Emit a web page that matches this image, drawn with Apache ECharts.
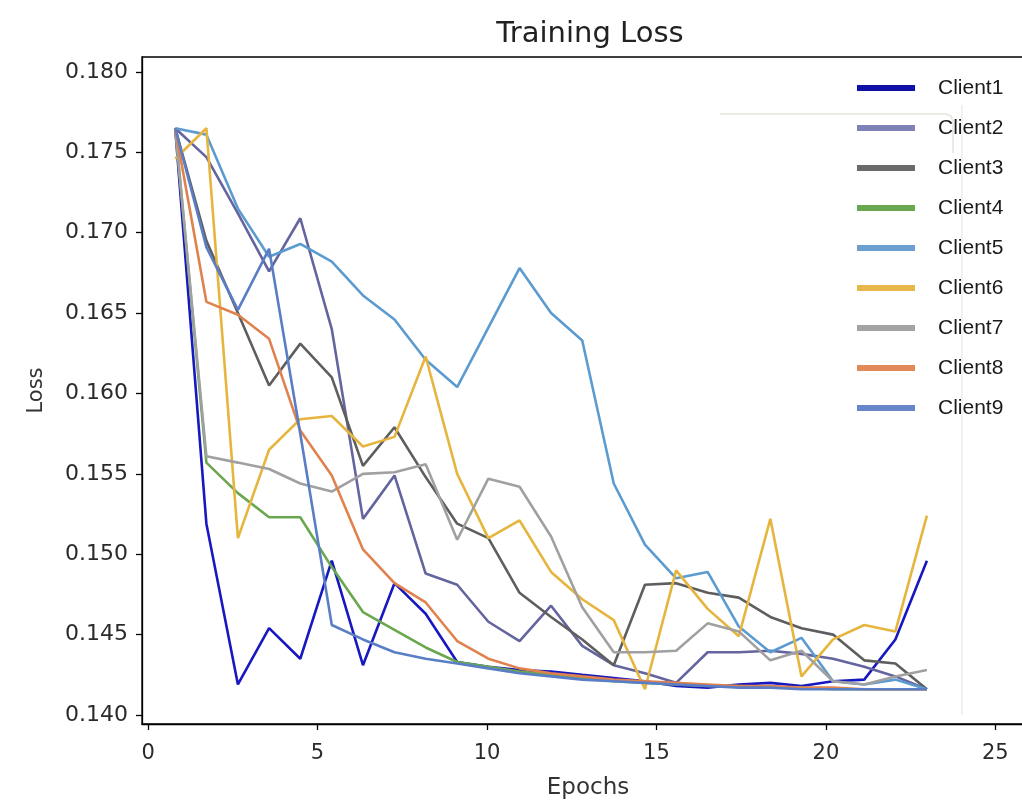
<!DOCTYPE html>
<html>
<head>
<meta charset="utf-8">
<script src="https://cdn.jsdelivr.net/npm/echarts@6/dist/echarts.min.js"></script>
<style>
html,body{margin:0;padding:0;background:#fff;}
#chart{width:1022px;height:804px;}
</style>
</head>
<body>
<div id="chart"></div>
<script>
// ---- data ----
const epochs = [0.80,1.72,2.65,3.57,4.49,5.42,6.34,7.27,8.19,9.12,10.04,10.96,11.89,12.81,13.74,14.66,15.58,16.51,17.43,18.36,19.28,20.21,21.13,22.05,22.98];
const seriesNames = ['Client1','Client2','Client3','Client4','Client5','Client6','Client7','Client8','Client9'];
const client1 = [0.1765,0.1519,0.1419,0.1454,0.1435,0.1496,0.1431,0.1482,0.1463,0.1433,0.1430,0.1428,0.1427,0.1425,0.1423,0.1421,0.1418,0.1417,0.1419,0.1420,0.1418,0.1421,0.1422,0.1447,0.1496];
const client2 = [0.1765,0.1747,0.1712,0.1676,0.1709,0.1640,0.1522,0.1549,0.1488,0.1481,0.1458,0.1446,0.1468,0.1443,0.1431,0.1426,0.1420,0.1439,0.1439,0.1440,0.1438,0.1435,0.1430,0.1424,0.1416];
const client3 = [0.1765,0.1695,0.1650,0.1605,0.1631,0.1610,0.1555,0.1579,0.1548,0.1519,0.1510,0.1476,0.1461,0.1447,0.1431,0.1481,0.1482,0.1476,0.1473,0.1461,0.1454,0.1450,0.1434,0.1432,0.1416];
const client4 = [0.1765,0.1557,0.1538,0.1523,0.1523,0.1492,0.1464,0.1453,0.1442,0.1433,0.1430,0.1427,0.1425,0.1423,0.1421,0.1420,0.1419,0.1418,0.1418,0.1417,0.1417,0.1416,0.1416,0.1416,0.1416];
const client5 = [0.1765,0.1761,0.1715,0.1685,0.1693,0.1682,0.1661,0.1646,0.1621,0.1604,0.1641,0.1678,0.1650,0.1633,0.1544,0.1506,0.1485,0.1489,0.1455,0.1439,0.1448,0.1421,0.1419,0.1422,0.1416];
const client6 = [0.1746,0.1765,0.1510,0.1565,0.1584,0.1586,0.1567,0.1573,0.1623,0.1550,0.1510,0.1521,0.1489,0.1472,0.1459,0.1416,0.1490,0.1466,0.1449,0.1522,0.1424,0.1447,0.1456,0.1452,0.1524];
const client7 = [0.1765,0.1561,0.1557,0.1553,0.1544,0.1539,0.1550,0.1551,0.1556,0.1509,0.1547,0.1542,0.1511,0.1467,0.1439,0.1439,0.1440,0.1457,0.1452,0.1434,0.1440,0.1421,0.1419,0.1424,0.1428];
const client8 = [0.1765,0.1657,0.1649,0.1634,0.1577,0.1549,0.1503,0.1482,0.1470,0.1446,0.1435,0.1429,0.1426,0.1424,0.1422,0.1421,0.1420,0.1419,0.1418,0.1418,0.1417,0.1417,0.1416,0.1416,0.1416];
const client9 = [0.1765,0.1691,0.1652,0.1690,0.1575,0.1456,0.1447,0.1439,0.1435,0.1432,0.1429,0.1426,0.1424,0.1422,0.1421,0.1420,0.1419,0.1418,0.1417,0.1417,0.1416,0.1416,0.1416,0.1416,0.1416];
const xTickValues = [0,5,10,15,20,25];
const yTickValues = [0.140,0.145,0.150,0.155,0.160,0.165,0.170,0.175,0.180];

const allClients = [client1,client2,client3,client4,client5,client6,client7,client8,client9];
const colors = ['#1818c0','#64649f','#5e5e5e','#6aa84f','#5b9bd0','#e6b53e','#a0a0a0','#e0824e','#5a7ec6'];
const legendColors = ['#1010a8','#8080b8','#6a6a6a','#6aa84f','#6a9fd0','#e6b84c','#a3a3a3','#e08a58','#6688c8'];

const chart = echarts.init(document.getElementById('chart'), null, {renderer:'canvas'});
const tickFont = 'DejaVu Sans';

const option = {
  animation: false,
  backgroundColor: '#ffffff',
  title: {
    text: 'Training Loss',
    left: 585, top: 15, textAlign: 'center',
    textStyle: {fontFamily: tickFont, fontSize: 29, fontWeight: 'normal', color: '#222'}
  },
  legend: {
    orient: 'vertical', left: 857, top: 76, padding: 0,
    itemWidth: 58, itemHeight: 6, itemGap: 16, icon: 'rect',
    data: seriesNames.map((n,i)=>({name:n, itemStyle:{color:legendColors[i]}})),
    textStyle: {fontFamily: 'Liberation Sans', fontSize: 21, color: '#1a1a1a', lineHeight: 24, padding: [0,0,0,18]}
  },
  grid: {left: 142, top: 57, width: 892, height: 667, show: true, borderColor: '#000', borderWidth: 1.3,
         backgroundColor: 'transparent', outerBoundsMode: 'none', containLabel: false},
  xAxis: {
    type: 'value', min: -0.18, max: 26.14,
    name: 'Epochs', nameLocation: 'middle', nameGap: 53,
    nameTextStyle: {fontFamily: tickFont, fontSize: 23, color: '#333'},
    axisLine: {show: true, onZero: false, lineStyle: {color: '#000', width: 1.3}},
    axisTick: {show: true, length: 6, lineStyle: {color: '#000', width: 1.3}, customValues: xTickValues},
    axisLabel: {fontFamily: tickFont, fontSize: 21, color: '#2a2a2a', margin: 19, customValues: xTickValues},
    splitLine: {show: false}
  },
  yAxis: {
    type: 'value', min: 0.13944, max: 0.18093,
    name: 'Loss', nameLocation: 'middle', nameGap: 95, nameRotate: 90,
    nameTextStyle: {fontFamily: tickFont, fontSize: 21, color: '#333'},
    axisLine: {show: true, onZero: false, lineStyle: {color: '#000', width: 1.3}},
    axisTick: {show: true, length: 6, lineStyle: {color: '#000', width: 1.3}, customValues: yTickValues},
    axisLabel: {fontFamily: tickFont, fontSize: 22, color: '#2a2a2a', margin: 14, customValues: yTickValues,
      formatter: v => v.toFixed(3)},
    splitLine: {show: false}
  },
  series: seriesNames.map((n,i)=>({
    name: n, type: 'line', showSymbol: false, symbol: 'none',
    data: epochs.map((x,k)=>[x, allClients[i][k]]),
    lineStyle: {color: colors[i], width: 2.6},
    itemStyle: {color: legendColors[i]},
    emphasis: {disabled: true}
  })),
  graphic: [
    {type: 'polyline', silent: true, z: -1,
     shape: {points: [[720,114],[946,114],[951,116],[953,121],[953,153]]},
     style: {stroke: '#e6e6de', lineWidth: 1.6, fill: null}},
    {type: 'line', silent: true, z: -1,
     shape: {x1: 962, y1: 105, x2: 962, y2: 715},
     style: {stroke: '#ebebe6', lineWidth: 1.4}}
  ]
};
chart.setOption(option);
</script>
</body>
</html>
